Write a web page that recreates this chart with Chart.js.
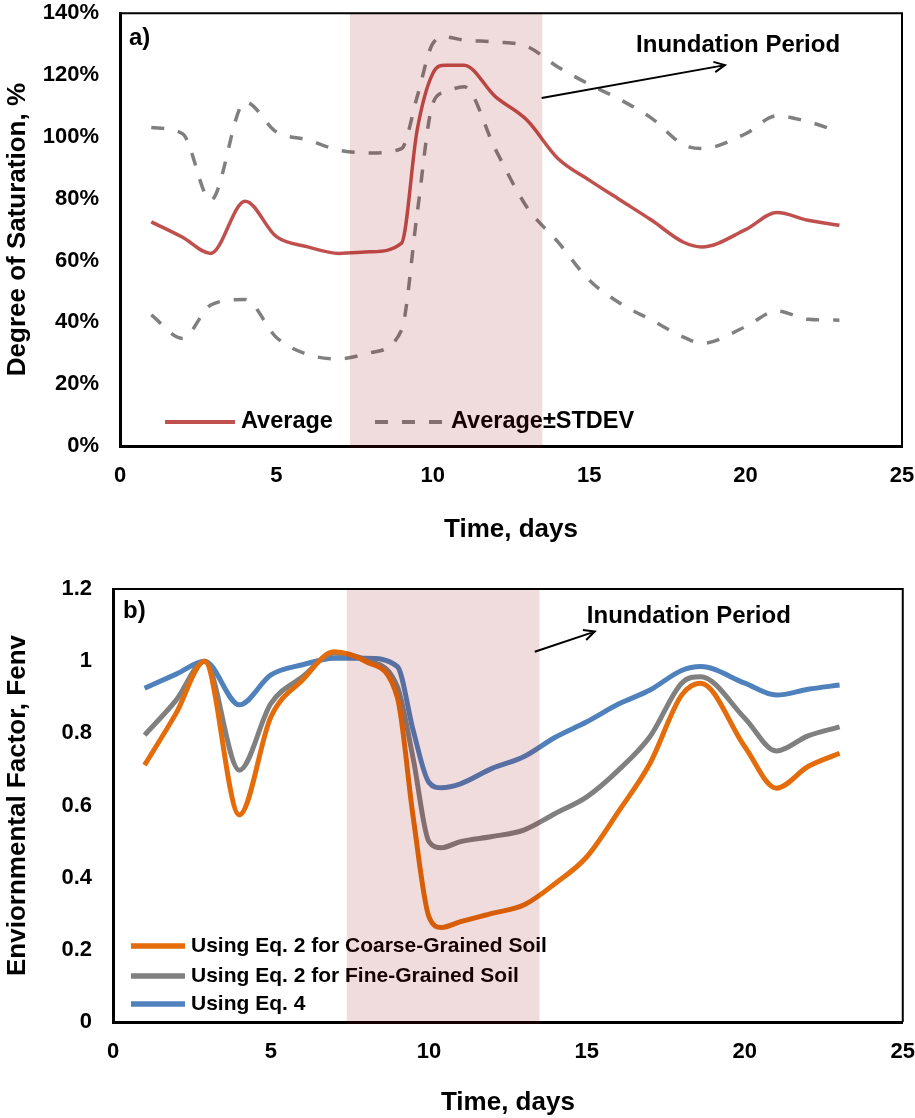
<!DOCTYPE html>
<html>
<head>
<meta charset="utf-8">
<script src="https://cdn.jsdelivr.net/npm/chart.js@4.4.1/dist/chart.umd.min.js"></script>
<style>
  html, body { margin: 0; padding: 0; background: #fff; }
  .caixa { position: relative; width: 915px; }
  canvas { display: block; }
</style>
</head>
<body>
<div class="caixa" style="height:560px"><canvas id="graficoA"></canvas></div>
<div class="caixa" style="height:558px"><canvas id="graficoB"></canvas></div>
<script>
// ── Dados ───────────────────────────────────────────────────────────────────
const DIAS = [1, 2, 2.9, 4, 5, 6, 7, 8, 9, 9.5, 10, 10.4, 11, 12, 13, 14, 15, 16, 17, 18, 18.6, 20, 21, 22, 23];

// a) grau de saturação (%)
const SAT_MEDIA     = [72.5, 67.5, 62.3, 79.2, 67.7, 64.4, 62.3, 62.8, 65.6, 102.2, 120.5, 123.2, 123.2, 113, 105.5, 93, 86, 79.5, 73, 66, 64.4, 70, 75.5, 73, 71.4];
const SAT_MAIS_DP   = [103, 101, 79.5, 111.3, 101.6, 99, 95.7, 94.8, 96.2, 113, 130.2, 132.3, 131.3, 130.7, 129.3, 122.6, 117, 112, 106, 97.5, 96.2, 101, 106.8, 104.9, 101.6];
const SAT_MENOS_DP  = [42.4, 34.8, 45.6, 47.4, 35.1, 29.6, 28.2, 30.2, 37.5, 75.2, 110.8, 114.5, 116.2, 96, 77.4, 66, 53.7, 46.1, 40.7, 35.3, 33.2, 38.6, 43.7, 41, 40.7];

// b) fator ambiental Fenv
const FENV_GROSSO   = [0.712, 0.856, 1.0, 0.574, 0.846, 0.948, 1.026, 0.999, 0.9, 0.569, 0.292, 0.262, 0.278, 0.301, 0.324, 0.384, 0.458, 0.583, 0.717, 0.906, 0.939, 0.763, 0.648, 0.708, 0.745];
const FENV_FINO     = [0.795, 0.892, 1.0, 0.698, 0.883, 0.957, 1.022, 1.003, 0.929, 0.731, 0.5, 0.483, 0.5, 0.514, 0.532, 0.578, 0.624, 0.698, 0.791, 0.939, 0.957, 0.842, 0.751, 0.793, 0.818];
const FENV_EQ4      = [0.925, 0.964, 1.0, 0.879, 0.962, 0.99, 1.008, 1.008, 0.985, 0.809, 0.664, 0.649, 0.66, 0.703, 0.735, 0.789, 0.832, 0.881, 0.92, 0.974, 0.985, 0.939, 0.906, 0.922, 0.934];

const INUNDACAO_A = [7.35, 13.5];
const INUNDACAO_B = [7.4, 13.5];

const FONTE = '"Liberation Sans", Arial, sans-serif';

function pontos(valores) {
  return DIAS.map((x, i) => ({ x, y: valores[i] }));
}

function fonte(tam) {
  return { family: FONTE, size: tam, weight: 'bold' };
}

// ── Plugin: legenda, faixa de inundação, moldura e anotações ────────────────
const pluginExtras = {
  id: 'extras',
  afterDatasetsDraw(chart, args, opts) {
    const { ctx, chartArea: a, scales: { x, y } } = chart;
    ctx.save();

    // legenda dentro da área do gráfico
    ctx.font = `bold ${opts.legenda.fonte}px ${FONTE}`;
    ctx.textBaseline = 'middle';
    ctx.lineCap = 'butt';
    opts.legenda.itens.forEach(it => {
      const ds = chart.data.datasets[it.ds];
      const yy = a.bottom - it.dy;
      ctx.strokeStyle = ds.borderColor;
      ctx.lineWidth = ds.borderWidth + 0.5;
      ctx.setLineDash(ds.borderDash || []);
      ctx.beginPath();
      ctx.moveTo(a.left + it.x0, yy);
      ctx.lineTo(a.left + it.x1, yy);
      ctx.stroke();
      ctx.setLineDash([]);
      ctx.fillStyle = '#000';
      ctx.fillText(ds.label, a.left + it.x1 + 6, yy);
    });

    // faixa do período de inundação (por cima de tudo)
    const f0 = x.getPixelForValue(opts.faixa[0]);
    const f1 = x.getPixelForValue(opts.faixa[1]);
    ctx.fillStyle = 'rgba(150,10,5,0.14)';
    ctx.fillRect(f0, a.top, f1 - f0, a.bottom - a.top + 2);

    // moldura superior e direita
    ctx.strokeStyle = '#000';
    ctx.lineWidth = 2;
    ctx.beginPath();
    ctx.moveTo(a.left, a.top);
    ctx.lineTo(a.right, a.top);
    ctx.lineTo(a.right, a.bottom);
    ctx.stroke();

    // a) / b)
    ctx.fillStyle = '#000';
    ctx.font = `bold 24px ${FONTE}`;
    ctx.textAlign = 'left';
    ctx.fillText(opts.letra, a.left + opts.letraPos[0], a.top + opts.letraPos[1]);

    // "Inundation Period" + seta
    const s = opts.seta;
    const px0 = x.getPixelForValue(s.de[0]), py0 = y.getPixelForValue(s.de[1]);
    const px1 = x.getPixelForValue(s.para[0]), py1 = y.getPixelForValue(s.para[1]);
    ctx.lineWidth = 2;
    ctx.beginPath();
    ctx.moveTo(px0, py0);
    ctx.lineTo(px1, py1);
    const ang = Math.atan2(py1 - py0, px1 - px0);
    ctx.moveTo(px1 - 12 * Math.cos(ang - 0.45), py1 - 12 * Math.sin(ang - 0.45));
    ctx.lineTo(px1, py1);
    ctx.lineTo(px1 - 12 * Math.cos(ang + 0.45), py1 - 12 * Math.sin(ang + 0.45));
    ctx.stroke();
    ctx.fillText('Inundation Period', x.getPixelForValue(s.texto[0]), y.getPixelForValue(s.texto[1]));

    ctx.restore();
  }
};

// marcas invisíveis só para afastar os rótulos (ticks.padding mexe na área do gráfico)
function gradeInvisivel(comprimento) {
  return { display: true, drawOnChartArea: false, drawTicks: true, tickLength: comprimento, color: 'rgba(0,0,0,0)' };
}

function eixoX(altura, padTitulo) {
  return {
    type: 'linear', min: 0, max: 25,
    ticks: { stepSize: 5, color: '#000', font: fonte(22), padding: 0 },
    grid: gradeInvisivel(17),
    border: { display: true, color: '#000', width: 3 },
    title: { display: true, text: 'Time, days', color: '#000', font: fonte(26), padding: { top: 0, bottom: padTitulo } },
    afterFit: s => { s.height = altura; }
  };
}

function eixoY(largura, titulo, extra) {
  return Object.assign({
    grid: gradeInvisivel(21),
    border: { display: true, color: '#000', width: 3 },
    title: { display: true, text: titulo, color: '#000', font: fonte(26), padding: { top: 2, bottom: 0 } },
    afterFit: s => { s.width = largura; }
  }, extra);
}

function linha(label, valores, cor, largura, tracejado) {
  return {
    label,
    data: pontos(valores),
    borderColor: cor,
    borderWidth: largura,
    borderDash: tracejado,
    pointRadius: 0,
    fill: false,
    cubicInterpolationMode: 'monotone'
  };
}

// ── Gráfico a) grau de saturação ────────────────────────────────────────────
function renderizarGraficoSaturacao() {
  new Chart(document.getElementById('graficoA'), {
    type: 'line',
    data: {
      datasets: [
        linha('Average', SAT_MEDIA, '#c0504d', 3.5),
        linha('Average±STDEV', SAT_MAIS_DP, '#808080', 3.5, [13, 14]),
        linha('Average-STDEV', SAT_MENOS_DP, '#808080', 3.5, [13, 14])
      ]
    },
    options: {
      responsive: true,
      maintainAspectRatio: false,
      animation: false,
      layout: { padding: { top: 13, right: 13, left: 0, bottom: 0 } },
      plugins: {
        legend: { display: false },
        tooltip: { enabled: false },
        extras: {
          legenda: { fonte: 23.5, itens: [ { ds: 0, dy: 24, x0: 45, x1: 115 }, { ds: 1, dy: 24, x0: 255, x1: 325 } ] },
          faixa: INUNDACAO_A,
          letra: 'a)', letraPos: [9, 25],
          seta: { de: [13.48, 112.6], para: [19.34, 123.2], texto: [16.5, 129.6] }
        }
      },
      scales: {
        x: eixoX(114, 15),
        y: eixoY(120, 'Degree of Saturation, %', {
          min: 0, max: 140,
          ticks: { stepSize: 20, color: '#000', font: fonte(22), padding: 0, callback: v => v + '%' }
        })
      }
    },
    plugins: [pluginExtras]
  });
}

// ── Gráfico b) fator ambiental ──────────────────────────────────────────────
function renderizarGraficoFenv() {
  new Chart(document.getElementById('graficoB'), {
    type: 'line',
    data: {
      datasets: [
        linha('Using Eq. 2 for Coarse-Grained Soil', FENV_GROSSO, '#e46c0a', 5),
        linha('Using Eq. 2 for Fine-Grained Soil', FENV_FINO, '#808080', 5),
        linha('Using Eq. 4', FENV_EQ4, '#4f81bd', 5)
      ]
    },
    options: {
      responsive: true,
      maintainAspectRatio: false,
      animation: false,
      layout: { padding: { top: 29, right: 12, left: 0, bottom: 0 } },
      plugins: {
        legend: { display: false },
        tooltip: { enabled: false },
        extras: {
          legenda: { fonte: 21, itens: [ { ds: 0, dy: 76, x0: 18, x1: 72 }, { ds: 1, dy: 46, x0: 18, x1: 72 }, { ds: 2, dy: 18, x0: 18, x1: 72 } ] },
          faixa: INUNDACAO_B,
          letra: 'b)', letraPos: [10, 22],
          seta: { de: [13.35, 1.026], para: [15.25, 1.082], texto: [15.0, 1.124] }
        }
      },
      scales: {
        x: eixoX(96, 0),
        y: eixoY(113, 'Enviornmental Factor, Fenv', {
          min: 0, max: 1.2,
          ticks: { stepSize: 0.2, color: '#000', font: fonte(22), padding: 0, callback: v => +v.toFixed(1) + '' }
        })
      }
    },
    plugins: [pluginExtras]
  });
}

// ── Init ────────────────────────────────────────────────────────────────────
renderizarGraficoSaturacao();
renderizarGraficoFenv();
</script>
</body>
</html>
